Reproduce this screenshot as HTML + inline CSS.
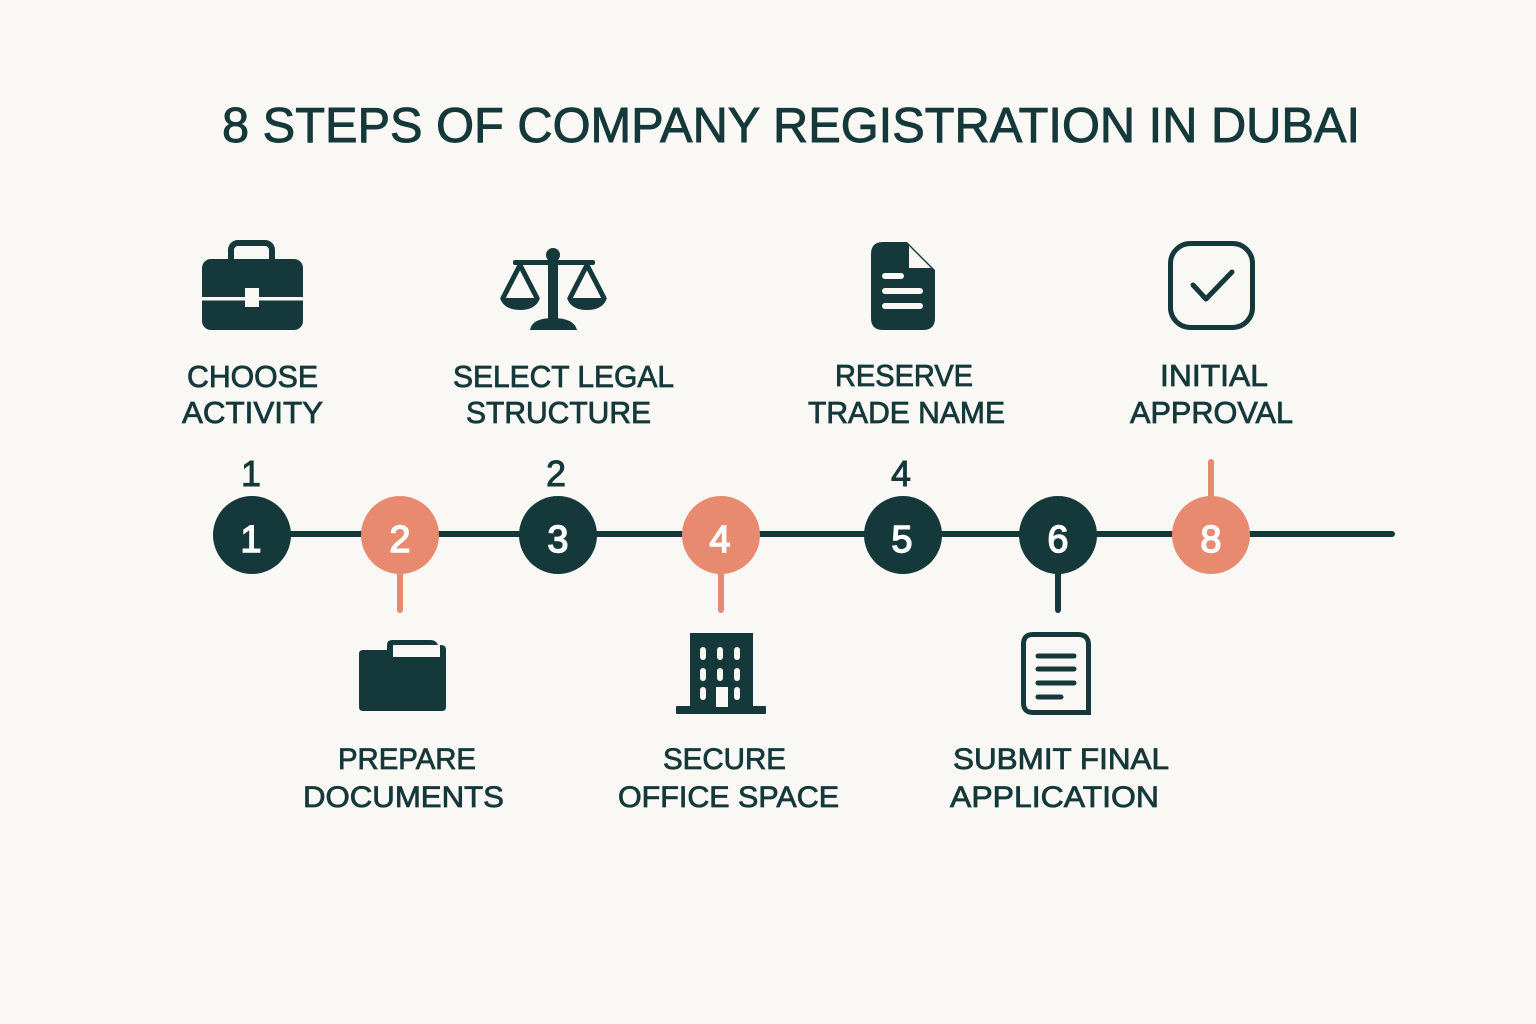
<!DOCTYPE html>
<html>
<head>
<meta charset="utf-8">
<style>
html,body{margin:0;padding:0;background:#faf8f5;}
svg{display:block;}
text{font-family:"Liberation Sans",sans-serif;fill:#15393a;}
</style>
</head>
<body>
<svg width="1536" height="1024" viewBox="0 0 1536 1024" xmlns="http://www.w3.org/2000/svg">
<rect width="1536" height="1024" fill="#faf8f5"/>

<!-- Title -->
<text x="222" y="142" font-size="49" textLength="1138" lengthAdjust="spacingAndGlyphs" stroke="#15393a" stroke-width="0.9">8 STEPS OF COMPANY REGISTRATION IN DUBAI</text>

<!-- Top labels -->
<g font-size="31" stroke="#15393a" stroke-width="0.8">
<text x="187" y="387" textLength="131" lengthAdjust="spacingAndGlyphs">CHOOSE</text>
<text x="182" y="423" textLength="141" lengthAdjust="spacingAndGlyphs">ACTIVITY</text>
<text x="453" y="387" textLength="221" lengthAdjust="spacingAndGlyphs">SELECT LEGAL</text>
<text x="466" y="423" textLength="185" lengthAdjust="spacingAndGlyphs">STRUCTURE</text>
<text x="835" y="386" textLength="138" lengthAdjust="spacingAndGlyphs">RESERVE</text>
<text x="808" y="423" textLength="197" lengthAdjust="spacingAndGlyphs">TRADE NAME</text>
<text x="1160" y="386" textLength="108" lengthAdjust="spacingAndGlyphs">INITIAL</text>
<text x="1130" y="423" textLength="163" lengthAdjust="spacingAndGlyphs">APPROVAL</text>
</g>

<!-- Bottom labels -->
<g font-size="30" stroke="#15393a" stroke-width="0.8">
<text x="338" y="769" textLength="138" lengthAdjust="spacingAndGlyphs">PREPARE</text>
<text x="303" y="807" textLength="201" lengthAdjust="spacingAndGlyphs">DOCUMENTS</text>
<text x="663" y="769" textLength="123" lengthAdjust="spacingAndGlyphs">SECURE</text>
<text x="618" y="807" textLength="221" lengthAdjust="spacingAndGlyphs">OFFICE SPACE</text>
<text x="953" y="769" textLength="216" lengthAdjust="spacingAndGlyphs">SUBMIT FINAL</text>
<text x="950" y="807" textLength="209" lengthAdjust="spacingAndGlyphs">APPLICATION</text>
</g>

<!-- Step numbers above -->
<g font-size="36" text-anchor="middle" stroke="#15393a" stroke-width="0.9">
<text x="251" y="486">1</text>
<text x="556" y="486">2</text>
<text x="901" y="486">4</text>
</g>

<!-- Timeline line -->
<line x1="252" y1="534" x2="1392" y2="534" stroke="#15393a" stroke-width="6" stroke-linecap="round"/>

<!-- Stems -->
<line x1="400" y1="560" x2="400" y2="610" stroke="#e88a6f" stroke-width="6" stroke-linecap="round"/>
<line x1="721" y1="560" x2="721" y2="610" stroke="#e88a6f" stroke-width="6" stroke-linecap="round"/>
<line x1="1058" y1="560" x2="1058" y2="610" stroke="#15393a" stroke-width="6" stroke-linecap="round"/>
<line x1="1211" y1="462" x2="1211" y2="510" stroke="#e88a6f" stroke-width="6" stroke-linecap="round"/>

<!-- Circles -->
<circle cx="252" cy="535" r="39" fill="#15393a"/>
<circle cx="400" cy="535" r="39" fill="#e88a6f"/>
<circle cx="558" cy="535" r="39" fill="#15393a"/>
<circle cx="721" cy="535" r="39" fill="#e88a6f"/>
<circle cx="903" cy="535" r="39" fill="#15393a"/>
<circle cx="1058" cy="535" r="39" fill="#15393a"/>
<circle cx="1211" cy="535" r="39" fill="#e88a6f"/>

<g font-size="38" text-anchor="middle" stroke="#ffffff" stroke-width="1.4">
<text x="251" y="552" style="fill:#fff">1</text>
<text x="400" y="552" style="fill:#fff">2</text>
<text x="558" y="552" style="fill:#fff">3</text>
<text x="720" y="552" style="fill:#fff">4</text>
<text x="902" y="552" style="fill:#fff">5</text>
<text x="1058" y="552" style="fill:#fff">6</text>
<text x="1211" y="552" style="fill:#fff">8</text>
</g>

<!-- Briefcase -->
<g>
<rect x="231" y="243" width="41" height="24" rx="7" fill="none" stroke="#15393a" stroke-width="6"/>
<rect x="202" y="259" width="101" height="71" rx="9" fill="#15393a"/>
<rect x="202" y="297" width="101" height="3.5" fill="#faf8f5"/>
<rect x="245" y="288" width="14" height="19" fill="#faf8f5"/>
</g>

<!-- Scales -->
<g fill="#15393a" stroke="#15393a">
<circle cx="553" cy="255" r="7" stroke="none"/>
<rect x="513" y="260" width="82" height="5" rx="2" stroke="none"/>
<rect x="548" y="256" width="10" height="66" stroke="none"/>
<path d="M530 330 Q532 318 553 318 Q574 318 577 330 Z" stroke="none"/>
<path d="M520 265 L503 298 M520 265 L537 298" fill="none" stroke-width="5" stroke-linecap="round"/>
<path d="M500 298 L540 298 Q536 310 520 310 Q504 310 500 298 Z" stroke="none"/>
<path d="M587 265 L570 298 M587 265 L604 298" fill="none" stroke-width="5" stroke-linecap="round"/>
<path d="M567 298 L607 298 Q603 310 587 310 Q571 310 567 298 Z" stroke="none"/>
</g>

<!-- Document (reserve) -->
<g>
<path d="M883 242 L907 242 L935 270 L935 318 Q935 330 923 330 L883 330 Q871 330 871 318 L871 254 Q871 242 883 242 Z" fill="#15393a"/>
<path d="M909 246 L909 268 L931 268 Z" fill="#faf8f5"/>
<line x1="885" y1="276" x2="901" y2="276" stroke="#faf8f5" stroke-width="6" stroke-linecap="round"/>
<line x1="885" y1="291" x2="920" y2="291" stroke="#faf8f5" stroke-width="6" stroke-linecap="round"/>
<line x1="885" y1="306" x2="920" y2="306" stroke="#faf8f5" stroke-width="6" stroke-linecap="round"/>
</g>

<!-- Checkbox -->
<g fill="none" stroke="#15393a">
<rect x="1170.5" y="243.5" width="82" height="84" rx="20" stroke-width="5"/>
<path d="M1193 285 L1206 299 L1232 272" stroke-width="5" stroke-linecap="round" stroke-linejoin="round"/>
</g>

<!-- Folder -->
<g>
<path d="M392 640 L431 640 Q436 640 438 645 L441 645 Q446 645 446 650 L446 707 Q446 711 442 711 L363 711 Q359 711 359 707 L359 654 Q359 650 363 650 L387 650 L387 645 Q387 640 392 640 Z" fill="#15393a"/>
<rect x="393" y="645" width="47" height="12" fill="#faf8f5"/>
</g>

<!-- Building -->
<g>
<rect x="690" y="633" width="63" height="75" fill="#15393a"/>
<rect x="676" y="706" width="90" height="8" rx="1" fill="#15393a"/>
<g fill="#faf8f5">
<rect x="700" y="647" width="6" height="13" rx="3"/>
<rect x="717" y="647" width="6" height="13" rx="3"/>
<rect x="734" y="647" width="6" height="13" rx="3"/>
<rect x="700" y="668" width="6" height="13" rx="3"/>
<rect x="717" y="668" width="6" height="13" rx="3"/>
<rect x="734" y="668" width="6" height="13" rx="3"/>
<rect x="700" y="687" width="6" height="13" rx="3"/>
<rect x="734" y="687" width="6" height="13" rx="3"/>
<rect x="716" y="687" width="12" height="20"/>
</g>
</g>

<!-- Document outline (submit) -->
<g fill="none" stroke="#15393a">
<path d="M1033 634.5 L1078 634.5 Q1088.5 634.5 1088.5 645 L1088.5 712.5 L1033 712.5 Q1023.5 712.5 1023.5 703 L1023.5 644 Q1023.5 634.5 1033 634.5 Z" stroke-width="5"/>
<g stroke-width="5" stroke-linecap="round">
<line x1="1038" y1="656" x2="1074" y2="656"/>
<line x1="1038" y1="669" x2="1074" y2="669"/>
<line x1="1038" y1="683" x2="1074" y2="683"/>
<line x1="1038" y1="697" x2="1061" y2="697"/>
</g>
</g>
</svg>
</body>
</html>
